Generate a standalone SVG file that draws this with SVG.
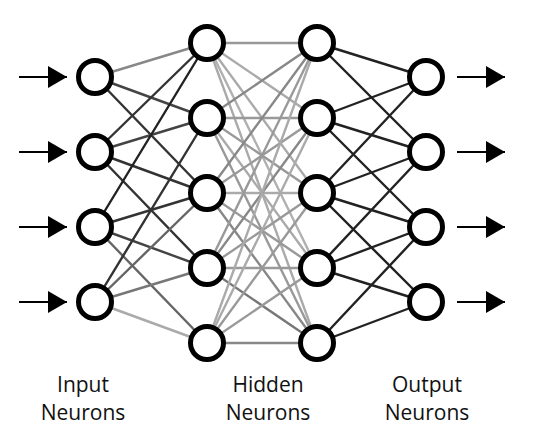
<svg xmlns="http://www.w3.org/2000/svg" width="538" height="442" viewBox="0 0 538 442">
<style>
.n{fill:#fff;stroke:#000;stroke-width:5}
.e line{stroke-width:2.4;stroke-linecap:round}
.ar{stroke:#000;stroke-width:2.2}
.t{font-family:"Open Sans","Liberation Sans",sans-serif;font-size:21px;fill:#111;text-anchor:middle}
</style>
<defs>
<marker id="ah" markerWidth="20" markerHeight="22" refX="19" refY="11" orient="auto" markerUnits="userSpaceOnUse">
<polygon points="0,0 19,11 0,22" fill="#000"/>
</marker>
</defs>
<rect width="538" height="442" fill="#fff"/>
<g id="connectors">
<g class="e">
<line x1="95" y1="77" x2="207" y2="43" stroke="#888"/>
<line x1="95" y1="77" x2="207" y2="118" stroke="#444"/>
<line x1="95" y1="77" x2="207" y2="193" stroke="#333"/>
<line x1="95" y1="152" x2="207" y2="43" stroke="#333"/>
<line x1="95" y1="152" x2="207" y2="118" stroke="#444"/>
<line x1="95" y1="152" x2="207" y2="193" stroke="#333"/>
<line x1="95" y1="152" x2="207" y2="268" stroke="#333"/>
<line x1="95" y1="227" x2="207" y2="43" stroke="#222"/>
<line x1="95" y1="227" x2="207" y2="193" stroke="#333"/>
<line x1="95" y1="227" x2="207" y2="268" stroke="#444"/>
<line x1="95" y1="227" x2="207" y2="343" stroke="#666"/>
<line x1="95" y1="302" x2="207" y2="118" stroke="#333"/>
<line x1="95" y1="302" x2="207" y2="193" stroke="#666"/>
<line x1="95" y1="302" x2="207" y2="268" stroke="#777"/>
<line x1="95" y1="302" x2="207" y2="343" stroke="#aaa"/>
</g>
<g class="e">
<line x1="207" y1="43" x2="317" y2="43" stroke="#999"/>
<line x1="207" y1="43" x2="317" y2="118" stroke="#aaa"/>
<line x1="207" y1="43" x2="317" y2="193" stroke="#aaa"/>
<line x1="207" y1="43" x2="317" y2="268" stroke="#b0b0b0"/>
<line x1="207" y1="43" x2="317" y2="343" stroke="#aaa"/>
<line x1="207" y1="118" x2="317" y2="43" stroke="#888"/>
<line x1="207" y1="118" x2="317" y2="118" stroke="#999"/>
<line x1="207" y1="118" x2="317" y2="193" stroke="#999"/>
<line x1="207" y1="118" x2="317" y2="268" stroke="#aaa"/>
<line x1="207" y1="118" x2="317" y2="343" stroke="#999"/>
<line x1="207" y1="193" x2="317" y2="43" stroke="#888"/>
<line x1="207" y1="193" x2="317" y2="118" stroke="#999"/>
<line x1="207" y1="193" x2="317" y2="193" stroke="#aaa"/>
<line x1="207" y1="193" x2="317" y2="268" stroke="#999"/>
<line x1="207" y1="193" x2="317" y2="343" stroke="#888"/>
<line x1="207" y1="268" x2="317" y2="43" stroke="#999"/>
<line x1="207" y1="268" x2="317" y2="118" stroke="#888"/>
<line x1="207" y1="268" x2="317" y2="193" stroke="#999"/>
<line x1="207" y1="268" x2="317" y2="268" stroke="#999"/>
<line x1="207" y1="268" x2="317" y2="343" stroke="#777"/>
<line x1="207" y1="343" x2="317" y2="43" stroke="#aaa"/>
<line x1="207" y1="343" x2="317" y2="118" stroke="#aaa"/>
<line x1="207" y1="343" x2="317" y2="193" stroke="#999"/>
<line x1="207" y1="343" x2="317" y2="268" stroke="#999"/>
<line x1="207" y1="343" x2="317" y2="343" stroke="#888"/>
</g>
<g class="e">
<line x1="317" y1="43" x2="426" y2="77" stroke="#222"/>
<line x1="317" y1="43" x2="426" y2="152" stroke="#222"/>
<line x1="317" y1="118" x2="426" y2="77" stroke="#222"/>
<line x1="317" y1="118" x2="426" y2="152" stroke="#222"/>
<line x1="317" y1="118" x2="426" y2="227" stroke="#222"/>
<line x1="317" y1="193" x2="426" y2="77" stroke="#222"/>
<line x1="317" y1="193" x2="426" y2="152" stroke="#222"/>
<line x1="317" y1="193" x2="426" y2="227" stroke="#222"/>
<line x1="317" y1="193" x2="426" y2="302" stroke="#222"/>
<line x1="317" y1="268" x2="426" y2="152" stroke="#222"/>
<line x1="317" y1="268" x2="426" y2="227" stroke="#222"/>
<line x1="317" y1="268" x2="426" y2="302" stroke="#222"/>
<line x1="317" y1="343" x2="426" y2="227" stroke="#222"/>
<line x1="317" y1="343" x2="426" y2="302" stroke="#222"/>
</g>
<g>
<line class="ar" x1="19" y1="77" x2="67" y2="77" marker-end="url(#ah)"/>
<line class="ar" x1="19" y1="152" x2="67" y2="152" marker-end="url(#ah)"/>
<line class="ar" x1="19" y1="227" x2="67" y2="227" marker-end="url(#ah)"/>
<line class="ar" x1="19" y1="302" x2="67" y2="302" marker-end="url(#ah)"/>
<line class="ar" x1="457" y1="77" x2="505" y2="77" marker-end="url(#ah)"/>
<line class="ar" x1="457" y1="152" x2="505" y2="152" marker-end="url(#ah)"/>
<line class="ar" x1="457" y1="227" x2="505" y2="227" marker-end="url(#ah)"/>
<line class="ar" x1="457" y1="302" x2="505" y2="302" marker-end="url(#ah)"/>
</g>
</g>
<g id="in1"><circle class="n" cx="95" cy="77" r="16.5"/></g>
<g id="in2"><circle class="n" cx="95" cy="152" r="16.5"/></g>
<g id="in3"><circle class="n" cx="95" cy="227" r="16.5"/></g>
<g id="in4"><circle class="n" cx="95" cy="302" r="16.5"/></g>
<g id="ha1"><circle class="n" cx="207" cy="43" r="16.5"/></g>
<g id="ha2"><circle class="n" cx="207" cy="118" r="16.5"/></g>
<g id="ha3"><circle class="n" cx="207" cy="193" r="16.5"/></g>
<g id="ha4"><circle class="n" cx="207" cy="268" r="16.5"/></g>
<g id="ha5"><circle class="n" cx="207" cy="343" r="16.5"/></g>
<g id="hb1"><circle class="n" cx="317" cy="43" r="16.5"/></g>
<g id="hb2"><circle class="n" cx="317" cy="118" r="16.5"/></g>
<g id="hb3"><circle class="n" cx="317" cy="193" r="16.5"/></g>
<g id="hb4"><circle class="n" cx="317" cy="268" r="16.5"/></g>
<g id="hb5"><circle class="n" cx="317" cy="343" r="16.5"/></g>
<g id="out1"><circle class="n" cx="426" cy="77" r="16.5"/></g>
<g id="out2"><circle class="n" cx="426" cy="152" r="16.5"/></g>
<g id="out3"><circle class="n" cx="426" cy="227" r="16.5"/></g>
<g id="out4"><circle class="n" cx="426" cy="302" r="16.5"/></g>
<g id="label-input"><text class="t" x="83" y="392">Input</text><text class="t" x="83" y="420">Neurons</text></g>
<g id="label-hidden"><text class="t" x="268" y="392">Hidden</text><text class="t" x="268" y="420">Neurons</text></g>
<g id="label-output"><text class="t" x="427" y="392">Output</text><text class="t" x="427" y="420">Neurons</text></g>
</svg>
